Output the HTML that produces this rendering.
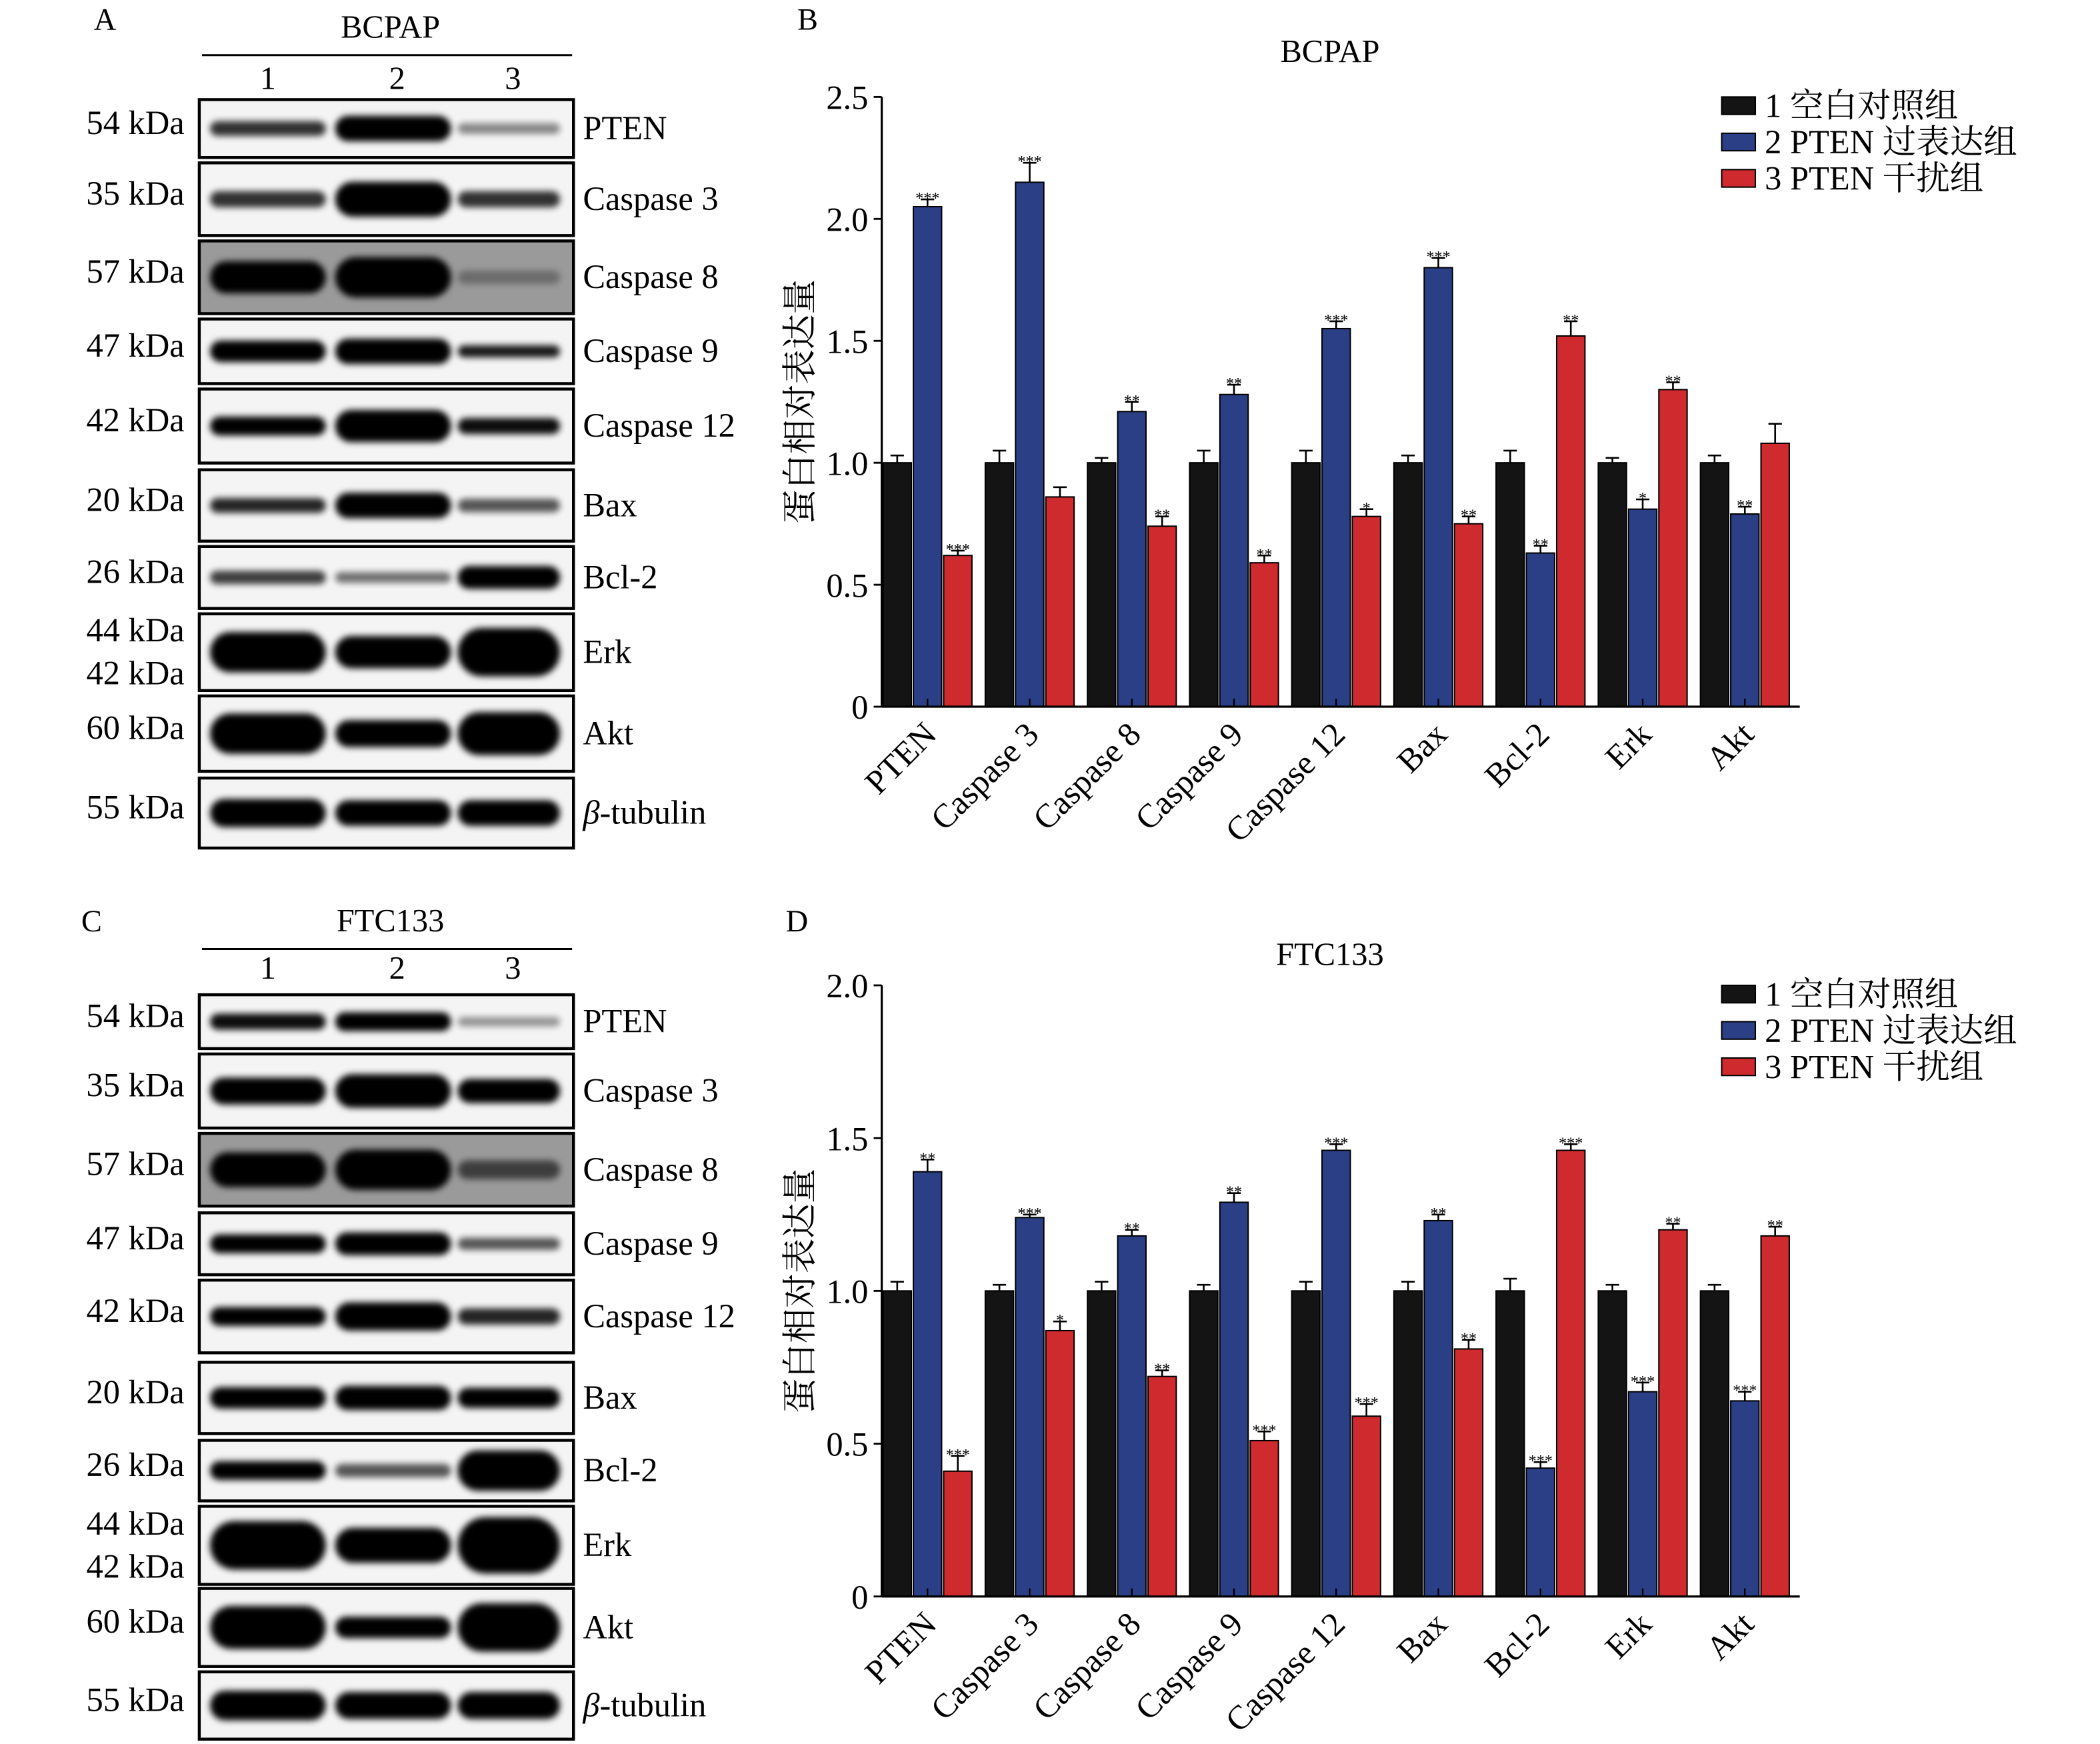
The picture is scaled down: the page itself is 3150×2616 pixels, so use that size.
<!DOCTYPE html>
<html><head><meta charset="utf-8"><style>
html,body{margin:0;padding:0;background:#fff}
svg{display:block}
text{font-family:"Liberation Serif","Noto Serif CJK SC",serif}
</style></head><body>
<svg id="fig" width="3150" height="2616" viewBox="0 0 1560 1295.6" xmlns="http://www.w3.org/2000/svg">
<defs><filter id="blur" x="-20%" y="-100%" width="140%" height="300%"><feGaussianBlur stdDeviation="2.4"/></filter></defs>
</svg>
<script>
const NS='http://www.w3.org/2000/svg';
const svg=document.getElementById('fig');
function mk(tag,attrs,parent,txt){const e=document.createElementNS(NS,tag);for(const k in attrs)e.setAttribute(k,attrs[k]);if(txt!==undefined)e.textContent=txt;(parent||svg).appendChild(e);return e;}

// ---------- chart data ----------
const categories=['PTEN','Caspase 3','Caspase 8','Caspase 9','Caspase 12','Bax','Bcl-2','Erk','Akt'];
const seriesNames=['1 空白对照组','2 PTEN 过表达组','3 PTEN 干扰组'];
const bControl=[1,1,1,1,1,1,1,1,1];
const bControlErr=[0.03,0.05,0.02,0.05,0.05,0.03,0.05,0.02,0.03];
const bOver=[2.05,2.15,1.21,1.28,1.55,1.80,0.63,0.81,0.79];
const bOverErr=[0.03,0.08,0.04,0.04,0.03,0.04,0.03,0.04,0.03];
const bKnock=[0.62,0.86,0.74,0.59,0.78,0.75,1.52,1.30,1.08];
const bKnockErr=[0.02,0.04,0.04,0.03,0.03,0.03,0.06,0.03,0.08];
const bOverStars=['***','***','**','**','***','***','**','*','**'];
const bKnockStars=['***','','**','**','*','**','**','**',''];
const bTicks=[0,0.5,1.0,1.5,2.0,2.5];

const dControl=[1,1,1,1,1,1,1,1,1];
const dControlErr=[0.03,0.02,0.03,0.02,0.03,0.03,0.04,0.02,0.02];
const dOver=[1.39,1.24,1.18,1.29,1.46,1.23,0.42,0.67,0.64];
const dOverErr=[0.04,0.01,0.02,0.03,0.02,0.02,0.02,0.03,0.03];
const dKnock=[0.41,0.87,0.72,0.51,0.59,0.81,1.46,1.20,1.18];
const dKnockErr=[0.05,0.03,0.02,0.03,0.04,0.03,0.02,0.02,0.03];
const dOverStars=['**','***','**','**','***','**','***','***','***'];
const dKnockStars=['***','*','**','***','***','**','***','**','**'];
const dTicks=[0,0.5,1.0,1.5,2.0];

const colors=['#141414','#2b3f87','#cf2a2d'];

function chart(name,title,top,bottom,ymax,ticks,vals,errs,stars,titleY){
  const g=mk('g',{});
  const x0=655,x1=1337;
  const y=v=>bottom-(v/ymax)*(bottom-top);
  const pitch=75.9,bw=21,gap=1.5,first=656;
  const gx=i=>first+i*pitch;
  vals.forEach((arr,s)=>{
    arr.forEach((v,i)=>{
      const x=gx(i)+s*(bw+gap);
      const r=mk('rect',{x:x,y:y(v),width:bw,height:bottom-y(v),fill:colors[s],stroke:'#000','stroke-width':1},g);
      
      
      const e=errs[s][i],cx=x+bw/2;
      mk('line',{x1:cx,x2:cx,y1:y(v),y2:y(v+e),stroke:'#000','stroke-width':1.3},g);
      mk('line',{x1:cx-5,x2:cx+5,y1:y(v+e),y2:y(v+e),stroke:'#000','stroke-width':1.3},g);
      if(s>0&&stars[s-1][i]){
        const t=mk('text',{x:cx,y:y(v+e)+3,'font-size':12,'text-anchor':'middle'},g,stars[s-1][i]);
        
        
      }
    });
  });
  mk('line',{x1:x0,x2:x0,y1:top,y2:bottom,stroke:'#000','stroke-width':1.6},g);
  mk('line',{x1:x0,x2:x1,y1:bottom,y2:bottom,stroke:'#000','stroke-width':1.6},g);
  ticks.forEach(t=>{
    mk('line',{x1:x0-6,x2:x0,y1:y(t),y2:y(t),stroke:'#000','stroke-width':1.4},g);
    const lbl=t===0?'0':t.toFixed(1);
    const tx=mk('text',{x:x0-10,y:y(t)+9,'font-size':25,'text-anchor':'end'},g,lbl);
    
    
  });
  categories.forEach((c,i)=>{
    const cx=gx(i)+bw*1.5+gap;
    mk('line',{x1:cx,x2:cx,y1:bottom,y2:bottom-6,stroke:'#000','stroke-width':1.2},g);
    const tx=mk('text',{x:cx+8,y:bottom+22,'font-size':25,'text-anchor':'end',transform:`rotate(-45 ${cx+8} ${bottom+22})`},g,c);
    
    
  });
  const tt=mk('text',{x:988,y:titleY,'font-size':24,'text-anchor':'middle'},g,title);
  
  
  const yc=(top+bottom)/2;
  const yt=mk('text',{x:603,y:yc,'font-size':26,'text-anchor':'middle',transform:`rotate(-90 603 ${yc})`},g,'蛋白相对表达量');
  
  
  seriesNames.forEach((n,s)=>{
    const ly=top+s*27;
    const le=mk('g',{},g);
    
    
    mk('rect',{x:1279,y:ly,width:25,height:13,fill:colors[s],stroke:'#000','stroke-width':1},le);
    mk('text',{x:1311,y:ly+15,'font-size':25},le,n);
  });
}
chart('chart-b-bcpap','BCPAP',72,525,2.5,bTicks,[bControl,bOver,bKnock],[bControlErr,bOverErr,bKnockErr],[bOverStars,bKnockStars],46);
chart('chart-d-ftc133','FTC133',732,1186,2.0,dTicks,[dControl,dOver,dKnock],[dControlErr,dOverErr,dKnockErr],[dOverStars,dKnockStars],717);

[['A',78,22],['B',600,22],['C',68,692],['D',592,692]].forEach(p=>{
  const t=mk('text',{x:p[1],y:p[2],'font-size':23,'text-anchor':'middle'},svg,p[0]);
  
  
});

// ---------- western blots ----------
const proteins=['PTEN','Caspase 3','Caspase 8','Caspase 9','Caspase 12','Bax','Bcl-2','Erk','Akt','β-tubulin'];
const kda=['54 kDa','35 kDa','57 kDa','47 kDa','42 kDa','20 kDa','26 kDa','44 kDa|42 kDa','60 kDa','55 kDa'];
const rowsA=[[74,117],[121,175],[179,233],[237,285],[289,344],[349,402],[406,452],[456,513],[517,573],[578,630]];
const rowsC=[[739,779],[783,838],[842,896],[901,947],[951,1005],[1012,1065],[1070,1115],[1119,1177],[1180,1238],[1242,1292]];
const bandsA=[[[11,.8],[19,1],[8,.45]],[[12,.8],[26,1],[12,.8]],[[24,1],[30,1],[10,.3]],[[16,1],[19,1],[9,.9]],[[14,1],[24,1],[12,.95]],[[11,.85],[19,1],[10,.65]],[[10,.75],[8,.55],[17,1]],[[30,1],[24,1],[36,1]],[[30,1],[20,1],[32,1]],[[21,1],[19,1],[19,1]]];
const bandsC=[[[12,.95],[14,1],[7,.4]],[[20,1],[25,1],[18,1]],[[26,1],[30,1],[14,.6]],[[14,1],[17,1],[9,.65]],[[14,1],[21,1],[12,.85]],[[16,1],[18,1],[15,1]],[[14,1],[10,.65],[30,1]],[[36,1],[26,1],[42,1]],[[32,1],[16,1],[36,1]],[[22,1],[20,1],[20,1]]];

function blot(name,title,letterY,numY,rows,bands){
  const g=mk('g',{});
  const t=mk('text',{x:290,y:letterY,'font-size':24,'text-anchor':'middle'},g,title);
  
  
  mk('line',{x1:150,x2:425,y1:letterY+13,y2:letterY+13,stroke:'#000','stroke-width':1.5},g);
  const lanes=[199,292,378];
  lanes.forEach((lx,i)=>mk('text',{x:lx+(i?3:0),y:numY,'font-size':24,'text-anchor':'middle'},g,String(i+1)));
  rows.forEach((r,ri)=>{
    const [t0,b0]=r,cy=(t0+b0)/2;
    const row=mk('g',{},g);
    
    
    mk('rect',{x:148,y:t0,width:278,height:b0-t0,fill:ri===2?'#9a9a9a':'#f4f4f4'},row);
    bands[ri].forEach((bd,li)=>{
      const w=li===2?76:86;
      mk('rect',{x:lanes[li]-w/2,y:cy-bd[0]/2,width:w,height:bd[0],rx:bd[0]/2,fill:'#000',opacity:bd[1],filter:'url(#blur)'},row);
    });
    mk('rect',{x:148,y:t0,width:278,height:b0-t0,fill:'none',stroke:'#000','stroke-width':2.2},row);
    const kd=kda[ri].split('|');
    if(kd.length===1) mk('text',{x:137,y:cy+4,'font-size':25,'text-anchor':'end'},row,kd[0]);
    else {mk('text',{x:137,y:cy-8,'font-size':25,'text-anchor':'end'},row,kd[0]);mk('text',{x:137,y:cy+24,'font-size':25,'text-anchor':'end'},row,kd[1]);}
    const pl=mk('text',{x:433,y:cy+8,'font-size':25},row);
    if(ri===9){mk('tspan',{'font-style':'italic'},pl,'β');mk('tspan',{},pl,'-tubulin');}
    else pl.textContent=proteins[ri];
  });
}
blot('blot-a-bcpap','BCPAP',28,66,rowsA,bandsA);
blot('blot-c-ftc133','FTC133',692,727,rowsC,bandsC);
</script>
</body></html>
